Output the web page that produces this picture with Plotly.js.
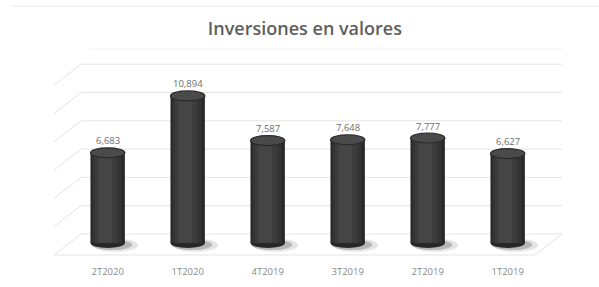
<!DOCTYPE html>
<html>
<head>
<meta charset="utf-8">
<script src="https://cdn.plot.ly/plotly-3.0.1.min.js"></script>
<style>html,body{margin:0;padding:0;background:#fff;}#chart{width:599px;height:287px;}</style>
</head>
<body>
<div id="chart"></div>
<script>
// ---- data ----
const categories = ['2T2020', '1T2020', '4T2019', '3T2019', '2T2019', '1T2019'];
const values = [6683, 10894, 7587, 7648, 7777, 6627];
const gridValues = [0, 2000, 4000, 6000, 8000, 10000, 12000];
const titleText = 'Inversiones en valores';

// ---- geometry / style (not data) ----
const xIdx = categories.map((c, i) => i);
const barW = 0.43;
const capR = 370;                       // cap vertical radius in y units
const xRange = [-0.671, 5.679];
const y2Range = [-1696, 13074];         // back-wall (grid) value scale
const xBack = -0.333, xFrontRight = 5.341;
const depth = 1484;                     // wall depth in y2 units

const fmt = v => v.toLocaleString('en-US');
const px = x => (x - xRange[0]) / (xRange[1] - xRange[0]);      // x -> paper
const py = v => (v - y2Range[0]) / (y2Range[1] - y2Range[0]);    // grid value -> paper

const shapes = [];
// back wall gridlines + side wall diagonals (below the bars)
gridValues.forEach(v => {
  shapes.push({type: 'path', xref: 'paper', yref: 'paper', layer: 'below',
    path: `M${px(xRange[0])},${py(v - depth)} L${px(xBack)},${py(v)} L${px(xRange[1])},${py(v)}`,
    line: {color: '#e4e4e4', width: 1}});
});
// floor front and right edges
shapes.push({type: 'path', xref: 'paper', yref: 'paper', layer: 'below',
  path: `M${px(xRange[0])},${py(-depth)} L${px(xFrontRight)},${py(-depth)} L${px(xRange[1])},${py(0)}`,
  line: {color: '#e4e4e4', width: 1}});
// faint top edge of back wall and outer frame line
shapes.push({type: 'line', xref: 'paper', yref: 'paper', layer: 'below', x0: 0.07, x1: 1, y0: 1, y1: 1,
  line: {color: '#f0f0f0', width: 1}});
shapes.push({type: 'line', xref: 'paper', yref: 'paper', x0: -0.085, x1: 1.1, y0: 1.206, y1: 1.206,
  line: {color: '#e8e8e8', width: 1}});

const traces = [];
// cylinder body: overlaid bars for shading
const layersSpec = [
  {w: 1.00, c: '#282828', s: 0},
  {w: 0.86, c: '#333333', s: -0.01},
  {w: 0.66, c: '#3c3c3c', s: -0.02},
  {w: 0.40, c: '#454545', s: -0.035}
];
layersSpec.forEach(L => {
  const w = barW * L.w;
  traces.push({
    type: 'bar', x: xIdx, y: values, width: w, offset: -w / 2 + L.s * barW * 2,
    marker: {color: L.c, line: {width: 0}}, hoverinfo: 'skip', showlegend: false
  });
});

values.forEach((v, i) => {
  // shadows
  shapes.push({type: 'circle', xref: 'x', yref: 'y', layer: 'below',
    x0: i - 0.26 + 0.07, x1: i + 0.26 + 0.12, y0: -650, y1: 320,
    fillcolor: 'rgba(0,0,0,0.10)', line: {width: 0}});
  shapes.push({type: 'circle', xref: 'x', yref: 'y', layer: 'below',
    x0: i - 0.24 + 0.04, x1: i + 0.24 + 0.07, y0: -520, y1: 250,
    fillcolor: 'rgba(0,0,0,0.20)', line: {width: 0}});
  // bottom cap
  shapes.push({type: 'circle', xref: 'x', yref: 'y', layer: 'below',
    x0: i - barW / 2, x1: i + barW / 2, y0: -capR, y1: capR,
    fillcolor: '#282828', line: {width: 0}});
  // top cap
  shapes.push({type: 'circle', xref: 'x', yref: 'y', layer: 'above',
    x0: i - barW / 2, x1: i + barW / 2, y0: v - capR, y1: v + capR,
    fillcolor: '#4a4a4a', line: {color: '#2a2a2a', width: 1.2}});
});

const annotations = values.map((v, i) => ({
  x: i, y: v, xref: 'x', yref: 'y', text: fmt(v), showarrow: false,
  yanchor: 'middle', yshift: 12,
  font: {family: 'Open Sans, sans-serif', size: 9.5, color: '#6b6b6b'}
}));

const layout = {
  width: 599, height: 287,
  margin: {l: 54, r: 37, t: 49, b: 29, pad: 0},
  paper_bgcolor: '#ffffff', plot_bgcolor: '#ffffff',
  barmode: 'overlay',
  title: {text: titleText, x: 0.509, xanchor: 'center', y: 1 - 29 / 287, yanchor: 'middle',
    font: {family: 'Open Sans, sans-serif', size: 18, color: '#5e5e5e', weight: 600}},
  xaxis: {range: xRange, tickmode: 'array', tickvals: xIdx, ticktext: categories,
    showgrid: false, zeroline: false, showline: false, ticks: '', ticklabelstandoff: 6,
    tickfont: {family: 'Open Sans, sans-serif', size: 9.5, color: '#8a8a8a'}, fixedrange: true},
  yaxis: {range: [-1111, 14370], showgrid: false, zeroline: false, showline: false,
    showticklabels: false, ticks: '', fixedrange: true},
  shapes: shapes,
  annotations: annotations,
  showlegend: false
};

Plotly.newPlot('chart', traces, layout, {displayModeBar: false, staticPlot: true});
</script>
</body>
</html>
